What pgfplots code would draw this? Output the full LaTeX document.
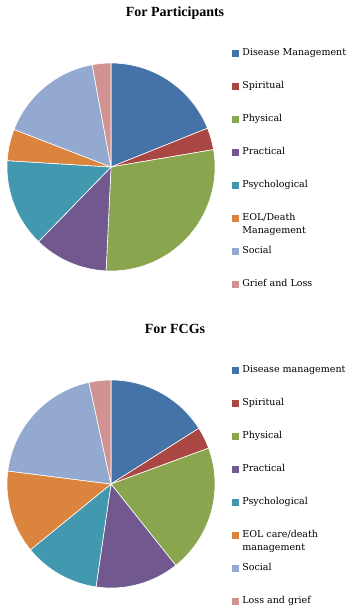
\documentclass[border=0pt]{standalone}
\usepackage{pgfplots}
\usepackage{pgfplotstable}
\pgfplotsset{compat=1.18}
\usepackage{fontspec}
\setmainfont{DejaVu Serif}
\newfontfamily\titlefont{Liberation Serif}

\definecolor{pie0}{HTML}{4572A7}
\definecolor{pie1}{HTML}{AA4643}
\definecolor{pie2}{HTML}{89A54E}
\definecolor{pie3}{HTML}{71588F}
\definecolor{pie4}{HTML}{4198AF}
\definecolor{pie5}{HTML}{DB843D}
\definecolor{pie6}{HTML}{93A9CF}
\definecolor{pie7}{HTML}{D19392}

% share of each category (percent), clockwise from 12 o'clock
\pgfplotstableread{
label value
DiseaseManagement 18.9
Spiritual 3.4
Physical 28.4
Practical 11.5
Psychological 13.7
EOLDeath 4.9
Social 16.2
GriefLoss 2.9
}\tableA

\pgfplotstableread{
label value
DiseaseManagement 16.0
Spiritual 3.4
Physical 19.9
Practical 13.0
Psychological 11.8
EOLCare 12.9
Social 19.6
LossGrief 3.4
}\tableB

\newcommand\buildpie[2]{%
  \gdef\pietot{0}%
  \pgfplotstablegetrowsof{#1}%
  \pgfmathtruncatemacro\pienrows{\pgfplotsretval-1}%
  \foreach \i in {0,...,\pienrows}{%
    \pgfplotstablegetelem{\i}{value}\of{#1}%
    \pgfmathsetmacro\pietmp{\pietot+\pgfplotsretval}%
    \global\let\pietot\pietmp
  }%
  \gdef\pieacc{90}%
  \gdef#2{}%
  \foreach \i in {0,...,\pienrows}{%
    \pgfplotstablegetelem{\i}{value}\of{#1}%
    \pgfmathsetmacro\pieend{\pieacc-360*\pgfplotsretval/\pietot}%
    \pgfmathsetmacro\piex{cos(\pieacc)}%
    \pgfmathsetmacro\piey{sin(\pieacc)}%
    \edef\pietmpcmd{\noexpand\fill[pie\i,draw=white,line width=0.6bp] (axis cs:0,0) -- (axis cs:\piex,\piey) arc[start angle=\pieacc, end angle=\pieend, radius=104bp] -- cycle;}%
    \xdef#2{\unexpanded\expandafter{#2}\unexpanded\expandafter{\pietmpcmd}}%
    \global\let\pieacc\pieend
  }%
}
\buildpie{\tableA}{\pieA}
\buildpie{\tableB}{\pieB}

\pgfplotsset{
  piestyle/.style={
    hide axis, clip=false,
    x=104bp, y=104bp,
    xmin=-1, xmax=1, ymin=-1, ymax=1,
    anchor=center,
    title style={at={(0.8077,1.194)}, anchor=base, font=\titlefont\bfseries\fontsize{14bp}{16bp}\selectfont},
    legend cell align=left,
    legend style={
      at={(1.0817,1.0697)}, anchor=north west,
      draw=none, fill=none, inner sep=0pt, outer sep=0pt,
      row sep=24bp, column sep=4bp,
      font=\fontsize{9.5bp}{12.6bp}\selectfont,
      nodes={inner sep=0pt, outer sep=0pt, text height=7bp, text depth=2bp, anchor=west},
    },
  },
  sq/.style={legend image code/.code={\fill[#1] (0bp,-3bp) rectangle (6bp,3bp);}},
}

\begin{document}
\begin{tikzpicture}
\useasboundingbox (0,0) rectangle (351bp,-611bp);
\begin{axis}[piestyle, at={(111bp,-167bp)}, title={For Participants}]
\pieA
\addlegendimage{sq=pie0}\addlegendentry{Disease Management}
\addlegendimage{sq=pie1}\addlegendentry{Spiritual}
\addlegendimage{sq=pie2}\addlegendentry{Physical}
\addlegendimage{sq=pie3}\addlegendentry{Practical}
\addlegendimage{sq=pie4}\addlegendentry{Psychological}
\addlegendimage{sq=pie5}\addlegendentry{\vtop{\hbox{EOL/Death}\hbox{Management}}}
\addlegendimage{sq=pie6}\addlegendentry{Social}
\addlegendimage{sq=pie7}\addlegendentry{Grief and Loss}
\end{axis}
\begin{axis}[piestyle, at={(111bp,-484bp)}, title={For FCGs}]
\pieB
\addlegendimage{sq=pie0}\addlegendentry{Disease management}
\addlegendimage{sq=pie1}\addlegendentry{Spiritual}
\addlegendimage{sq=pie2}\addlegendentry{Physical}
\addlegendimage{sq=pie3}\addlegendentry{Practical}
\addlegendimage{sq=pie4}\addlegendentry{Psychological}
\addlegendimage{sq=pie5}\addlegendentry{\vtop{\hbox{EOL care/death}\hbox{management}}}
\addlegendimage{sq=pie6}\addlegendentry{Social}
\addlegendimage{sq=pie7}\addlegendentry{Loss and grief}
\end{axis}
\end{tikzpicture}
\end{document}
